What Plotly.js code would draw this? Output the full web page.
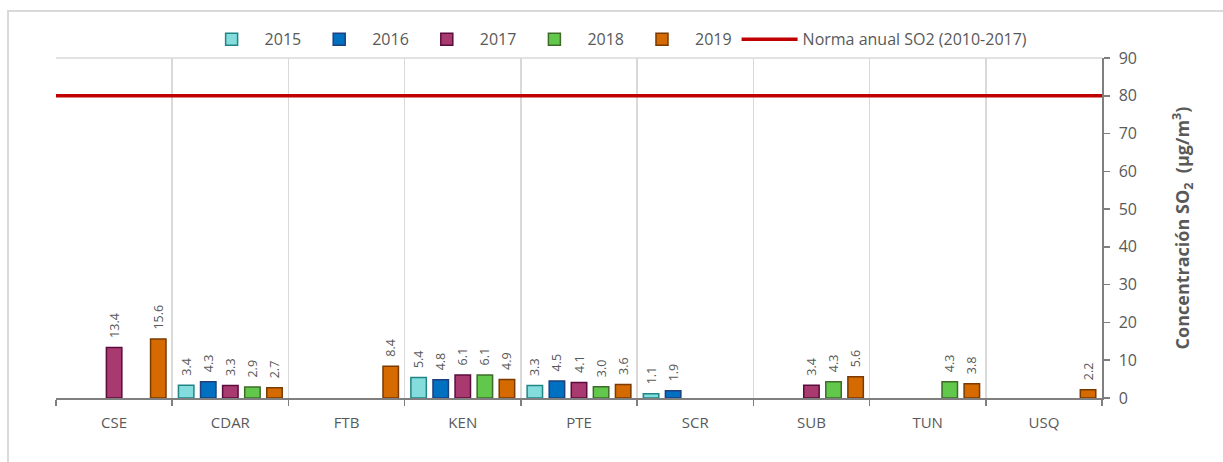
<!DOCTYPE html>
<html>
<head>
<meta charset="utf-8">
<script src="https://cdn.plot.ly/plotly-3.0.1.min.js"></script>
<style>
html,body{margin:0;padding:0;background:#fff;}
#frame{position:absolute;left:7px;top:10px;width:1300px;height:500px;border-left:2px solid #d9d9d9;border-top:2px solid #d9d9d9;pointer-events:none;}
#chart{position:absolute;left:0;top:0;width:1223px;height:462px;}
</style>
</head>
<body>
<div id="chart"></div>
<div id="frame"></div>
<script>
const categories = ["CSE","CDAR","FTB","KEN","PTE","SCR","SUB","TUN","USQ"];
const years = ["2015","2016","2017","2018","2019"];
const v2015 = [null, 3.4, null, 5.4, 3.3, 1.1, null, null, null];
const v2016 = [null, 4.3, null, 4.8, 4.5, 1.9, null, null, null];
const v2017 = [13.4, 3.3, null, 6.1, 4.1, null, 3.4, null, null];
const v2018 = [null, 2.9, null, 6.1, 3.0, null, 4.3, 4.3, null];
const v2019 = [15.6, 2.7, 8.4, 4.9, 3.6, null, 5.6, 3.8, 2.2];
const normaName = "Norma anual SO2 (2010-2017)";
const normaValue = 80;
const yTicks = [0,10,20,30,40,50,60,70,80,90];

const seriesValues = [v2015, v2016, v2017, v2018, v2019];
const fills = ["#84dcdc", "#0070c0", "#a83a70", "#62c84c", "#d46a00"];
const borders = ["#218585", "#1f3f7f", "#5c0c3c", "#3e6b2a", "#7a3a00"];
const gray = "#595959";
const font = "'Open Sans', 'Noto Sans', sans-serif";

const traces = years.map((yr, i) => ({
  type: "bar",
  name: yr,
  x: categories,
  y: seriesValues[i],
  marker: {color: fills[i], line: {color: borders[i], width: 1.5}},
  texttemplate: "\u00a0\u00a0%{y:.1f}",
  textposition: "outside",
  textangle: -90,
  constraintext: "none",
  cliponaxis: false,
  textfont: {family: font, size: 12.5, color: gray},
  hoverinfo: "x+y+name"
}));

traces.push({
  type: "scatter",
  mode: "lines",
  name: normaName,
  x: [0, 1],
  y: [normaValue, normaValue],
  xaxis: "x2",
  line: {color: "#c00000", width: 3.5}
});

const layout = {
  width: 1223, height: 462,
  margin: {l: 56, r: 121, t: 58, b: 64},
  paper_bgcolor: "#fff", plot_bgcolor: "#fff",
  barmode: "group",
  bargap: 0.05,
  bargroupgap: 0.3,
  showlegend: true,
  legend: {
    orientation: "h", x: 0.535, xanchor: "center", y: 1.055, yanchor: "middle",
    font: {family: font, size: 16, color: gray},
    itemwidth: 56, traceorder: "normal", tracegroupgap: 0
  },
  xaxis: {
    type: "category",
    tickson: "boundaries",
    ticks: "outside", ticklen: 6, tickcolor: "#7f7f7f", tickwidth: 1.5,
    showgrid: true, gridcolor: "#d9d9d9", gridwidth: 1.5,
    showline: true, linecolor: "#7f7f7f", linewidth: 1.5,
    tickfont: {family: font, size: 15, color: gray},
    ticklabelstandoff: 10,
    fixedrange: true
  },
  xaxis2: {
    overlaying: "x", range: [0, 1], visible: false, fixedrange: true
  },
  yaxis: {
    side: "right",
    range: [0, 90],
    tickvals: yTicks,
    ticks: "outside", ticklen: 6, tickcolor: "#7f7f7f", tickwidth: 1.5,
    showgrid: false, zeroline: false,
    showline: true, linecolor: "#7f7f7f", linewidth: 1.5,
    tickfont: {family: font, size: 16, color: gray},
    ticklabelstandoff: 6,
    title: {text: "<b>Concentración SO<sub>2</sub>  (µg/m<sup>3</sup>)</b>", font: {family: font, size: 18, color: gray}, standoff: 40},
    fixedrange: true
  },
  shapes: [
    {type: "line", xref: "paper", yref: "paper", x0: 0, x1: 1, y0: 1, y1: 1, line: {color: "#d9d9d9", width: 1.5}, layer: "below"}
  ]
};

Plotly.newPlot("chart", traces, layout, {displayModeBar: false, staticPlot: true});
</script>
</body>
</html>
